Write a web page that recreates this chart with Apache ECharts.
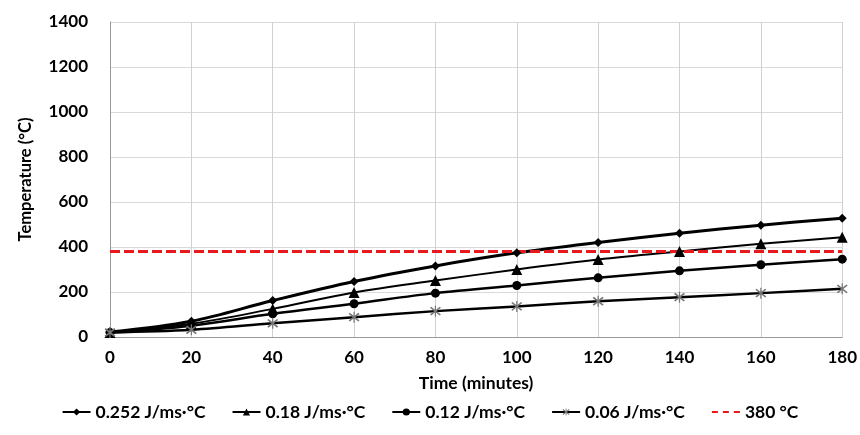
<!DOCTYPE html>
<html>
<head>
<meta charset="utf-8">
<script src="https://cdn.jsdelivr.net/npm/echarts@6/dist/echarts.min.js"></script>
<style>
  html, body { margin: 0; padding: 0; background: #fff; }
  #chart { width: 860px; height: 435px; }
</style>
</head>
<body>
<div id="chart"></div>
<script>
// Time in minutes
var times = [0, 20, 40, 60, 80, 100, 120, 140, 160, 180];
// Temperature (°C) for each thermal conductivity
var k0252 = [22, 70, 162, 247, 316, 374, 420, 461, 497, 528];
var k018  = [20, 59, 125, 198, 251, 300, 344, 380, 414, 443];
var k012  = [20, 50, 103, 148, 195, 229, 263, 294, 321, 346];
var k006  = [20, 32, 61, 88, 115, 136, 159, 177, 195, 214];
var limitTemp = 380;
var seriesNames = ['0.252 J/ms\u00b7\u00b0C', '0.18 J/ms\u00b7\u00b0C', '0.12 J/ms\u00b7\u00b0C', '0.06 J/ms\u00b7\u00b0C', '380 \u00b0C'];

function pairs(ys) {
  return times.map(function (t, i) { return [t, ys[i]]; });
}

var starPath = 'path://M9,0 L11,0 L11,20 L9,20 Z M1,4 L3,2 L19,16 L17,18 Z M17,2 L19,4 L3,18 L1,16 Z';
var fontFam = 'Lato, "Liberation Sans", sans-serif';

var chart = echarts.init(document.getElementById('chart'), null, { renderer: 'canvas' });

chart.setOption({
  animation: false,
  textStyle: { fontFamily: fontFam },
  grid: { left: 110, right: 15, top: 22, bottom: 98 },
  legend: {
    bottom: 9,
    left: 'center',
    itemGap: 26,
    itemWidth: 28,
    itemHeight: 9,
    textStyle: { fontSize: 17.5, fontWeight: 'bold', color: '#000', fontFamily: fontFam },
    data: [
      seriesNames[0], seriesNames[1], seriesNames[2], seriesNames[3],
      { name: seriesNames[4], itemStyle: { opacity: 0 }, lineStyle: { type: [6, 5] } }
    ]
  },
  xAxis: {
    type: 'value',
    min: 0, max: 180, interval: 20,
    name: 'Time (minutes)',
    nameLocation: 'middle',
    nameGap: 37,
    nameTextStyle: { fontSize: 17.5, fontWeight: 'bold', color: '#000' },
    axisLine: { lineStyle: { color: '#999' } },
    axisTick: { show: false },
    axisLabel: { fontSize: 17, fontWeight: 'bold', color: '#000', margin: 12 },
    splitLine: { show: true, lineStyle: { color: '#d0d0d0' } }
  },
  yAxis: {
    type: 'value',
    min: 0, max: 1400, interval: 200,
    name: 'Temperature (\u00b0C)',
    nameLocation: 'middle',
    nameGap: 76,
    nameTextStyle: { fontSize: 16.5, fontWeight: 'bold', color: '#000' },
    axisLine: { show: true, lineStyle: { color: '#999' } },
    axisTick: { show: false },
    axisLabel: {
      fontSize: 17, fontWeight: 'bold', color: '#000', margin: 22,
      formatter: function (v) { return String(v); }
    },
    splitLine: { show: true, lineStyle: { color: '#d9d9d9' } }
  },
  series: [
    {
      name: seriesNames[0], type: 'line', data: pairs(k0252), smooth: 0.35,
      symbol: 'diamond', symbolSize: 9,
      lineStyle: { color: '#000', width: 3 }, itemStyle: { color: '#000' }
    },
    {
      name: seriesNames[1], type: 'line', data: pairs(k018), smooth: 0.35,
      symbol: 'triangle', symbolSize: 11,
      lineStyle: { color: '#000', width: 2 }, itemStyle: { color: '#000' }
    },
    {
      name: seriesNames[2], type: 'line', data: pairs(k012), smooth: 0.35,
      symbol: 'circle', symbolSize: 9,
      lineStyle: { color: '#000', width: 2.5 }, itemStyle: { color: '#000' }
    },
    {
      name: seriesNames[3], type: 'line', data: pairs(k006), smooth: 0.35,
      symbol: starPath, symbolSize: 11,
      lineStyle: { color: '#000', width: 2.5 }, itemStyle: { color: '#777' }
    },
    {
      name: seriesNames[4], type: 'line', data: [[0, limitTemp], [180, limitTemp]],
      symbol: 'none',
      lineStyle: { color: '#e8181c', width: 3, type: [10, 4] }, itemStyle: { color: '#e8181c' }
    }
  ]
});
</script>
</body>
</html>
